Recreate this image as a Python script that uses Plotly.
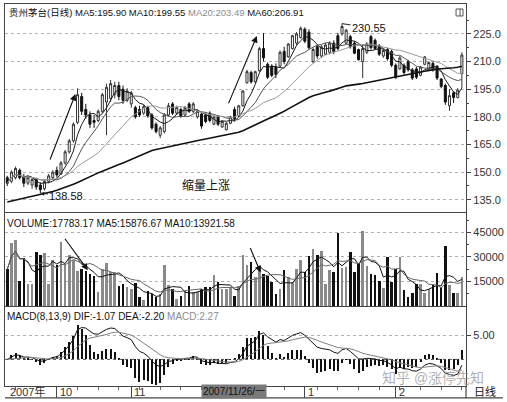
import plotly.graph_objects as go
import pandas as pd

# ---------------- data ----------------
opens = [147, 145, 147, 151, 147.5, 144, 143, 146, 143, 141,
         145, 147, 151, 149, 155, 161, 167, 177, 191, 184,
         181, 178, 178, 183, 188, 190, 192, 197, 195, 189,
         187, 185, 184, 182, 185, 181, 176, 170, 172, 181,
         187, 182, 184, 181, 187, 183, 180, 181.5, 181, 182,
         176, 180, 174.5, 173, 176.5, 184, 180.6, 186, 198.5, 204,
         199, 205, 217, 208.5, 207.5, 207, 207.5, 215.5, 212.5, 217,
         220, 223, 227.5, 226, 210, 218, 213, 214, 215, 220,
         224, 225, 220, 223.5, 220, 216.5, 210, 215, 223.5, 221.5,
         218.5, 213, 216.5, 215.5, 208, 206, 208, 210, 205.5, 206,
         202.5, 208.5, 205.5, 209, 207.5, 200.5, 197, 186, 193, 190.5,
         203.5]
highs = [148, 151, 153, 152, 149, 148, 147, 147, 144.5, 146,
         149, 151, 153, 156, 162, 168, 177, 195.5, 193, 187,
         183, 181, 184, 193, 198, 200, 199, 199, 197, 195.5,
         194, 186, 186, 186.5, 186, 182, 177, 175, 182, 187.5,
         188, 186, 185, 186, 188, 188, 184, 182, 182.5, 183,
         180.5, 181, 178, 177, 180.5, 185.5, 186.5, 194.5, 205.5, 205,
         205, 218, 225.5, 209.5, 208.5, 209, 216, 218, 220, 224.5,
         226, 229, 228.5, 227.5, 217.5, 219, 219, 220, 221, 221.5,
         225.5, 230.55, 227.7, 224.5, 221, 217, 219, 220.5, 224.5, 222.5,
         219.5, 217, 217.5, 216.5, 209, 213, 209, 211, 206.5, 207,
         207.5, 213, 210, 210, 208, 201, 198, 195, 194, 195.5,
         215]
lows = [142.5, 144, 146, 146, 142, 143, 141, 140.5, 138.58, 140,
        144, 146, 147, 148.5, 154, 160, 166, 176, 181, 179,
        174, 174, 177, 182, 170, 188, 190, 189, 187, 188,
        185, 179, 180, 181, 179.5, 173, 171, 168.5, 171, 180,
        181, 181, 179.5, 180, 182, 182, 179, 173.5, 176.5, 177,
        175.5, 175, 174, 172.6, 176, 177.5, 180, 185.5, 198, 198,
        198.5, 204.5, 210, 200.5, 201.5, 201, 207, 208.5, 212, 216.5,
        219, 222.5, 220, 216.5, 209, 211.5, 212, 213.5, 214, 214,
        216, 224, 219.5, 217, 214, 210.5, 201, 214, 216.5, 216.5,
        213, 212, 210.5, 207, 200.5, 205.5, 203, 204.5, 200, 200.5,
        202, 208, 205, 204.5, 200, 195.5, 186.5, 183.3, 187.5, 190,
        195.5]
closes = [144, 150, 152, 147, 144, 147, 146, 142, 140.5, 145,
          148, 150, 148.5, 155, 161, 167, 176, 192, 183, 181,
          176, 177, 183, 192, 196, 198, 197, 191, 189, 194,
          193, 180, 181, 185.5, 180.5, 174, 172, 174, 181, 186,
          182, 185, 180.5, 185, 183, 187, 183, 175, 177.5, 178,
          180, 176, 177.5, 176.5, 180, 179, 186, 194, 204.5, 199,
          204.5, 217, 212, 201.5, 202.5, 203, 215, 210, 219.5, 224,
          225, 228, 221, 217.5, 216.5, 213, 218, 219, 220, 215.5,
          217, 229, 227, 218, 214.5, 211, 217, 219.5, 217.5, 217,
          214, 216, 211.5, 208, 201.5, 212, 204, 205.5, 201, 201.5,
          207, 212.5, 209.5, 205.5, 201, 196.5, 188, 191.5, 190.5, 194.5,
          213.5]
volumes = [22500, 38000, 40000, 15000, 29000, 13000, 13000, 33000, 31000, 32000,
           13000, 27700, 24600, 39000, 25600, 30800, 27700, 21400, 22500, 21400,
           19400, 18300, 8300, 22500, 26300, 20400, 20400, 12000, 13500, 11700,
           10400, 13700, 5400, 3300, 9000, 6900, 5400, 6900, 24600, 12500,
           10400, 4200, 6200, 9000, 12000, 8300, 8300, 10000, 11700, 11700,
           18700, 14200, 10000, 10000, 11700, 5800, 12000, 30800, 24600, 26700,
           17300, 22900, 19400, 18300, 14600, 6900, 10000, 21900, 17300, 14600,
           22500, 27700, 20800, 30400, 34400, 30800, 33300, 13100, 21900, 20800,
           44400, 22900, 23500, 32900, 20800, 26000, 45800, 24200, 19400, 18800,
           15200, 11000, 29800, 14600, 22500, 29800, 9400, 5400, 7900, 13100,
           13100, 7900, 10000, 12500, 20000, 11500, 36500, 12500, 7500, 7500,
           17783]
# MA60 for the days whose 60-day window starts before the shown data
ma60_head = [133.8, 134.3, 134.8, 135.3, 135.7, 136.1, 136.6, 137.1, 137.6, 138.2,
             138.8, 139.5, 140.2, 140.9, 141.7, 142.4, 143.4, 144.4, 145.5, 146.5,
             147.5, 148.5, 149.6, 150.5, 151.5, 152.4, 153.3, 154.1, 155.0, 156.0,
             157.0, 158.0, 159.0, 160.0, 160.9, 161.7, 162.3, 162.8, 163.3, 163.8,
             164.4, 165.0, 165.5, 166.0, 166.4, 166.8, 167.2, 167.6, 168.0, 168.4,
             168.8, 169.2, 169.6, 170.0, 170.5, 171.0, 171.6, 172.4, 173.5]

month_ticks = [0, 12, 30, 72, 94]
month_labels = ["2007年", "10", "11", "1", "2"]
week_starts = [2, 7, 17, 22, 27, 32, 37, 42, 47, 52, 57, 62, 67, 75, 80, 85, 90, 95, 100, 105, 110]
cursor_index = 47
cursor_label = "2007/11/26/一"
price_ticks = [135, 150, 165, 180, 195, 210, 225]
price_minor = [142.5, 157.5, 172.5, 187.5, 202.5, 217.5, 232.5]
vol_ticks = [15000, 30000, 45000]
vol_minor = [7500, 22500, 37500, 52500]
macd_ticks = [5]

peak_index, peak_value = 81, 230.55
low_index, low_value = 8, 138.58

title_main = ("贵州茅台(日线) MA5:195.90 MA10:199.55 "
              "<span style='color:#8c8c8c'>MA20:203.49</span> MA60:206.91")
title_vol = "VOLUME:17783.17 MA5:15876.67 MA10:13921.58"
title_macd = ("MACD(8,13,9) DIF:-1.07 DEA:-2.20 "
              "<span style='color:#8c8c8c'>MACD:2.27</span>")

# ---------------- indicators ----------------
x = list(range(len(closes)))
c = pd.Series(closes, dtype=float)
ma5 = c.rolling(5, min_periods=1).mean()
ma10 = c.rolling(10, min_periods=1).mean()
ma20 = c.rolling(20, min_periods=1).mean()
ma60 = c.rolling(60).mean()
ma60.iloc[:len(ma60_head)] = ma60_head

v = pd.Series(volumes, dtype=float)
vma5 = v.rolling(5, min_periods=1).mean()
vma10 = v.rolling(10, min_periods=1).mean()

ema8 = c.ewm(span=8, adjust=False).mean()
ema13 = c.ewm(span=13, adjust=False).mean()
dif = ema8 - ema13
dea = dif.ewm(span=9, adjust=False).mean()
hist = 2 * (dif - dea)

vol_colors = ["#8a8a8a" if cl >= op else "#111111" for op, cl in zip(opens, closes)]

FONT = "Liberation Sans, Arial, Noto Sans CJK SC, sans-serif"
LINE = "#444444"

fig = go.Figure()
fig.add_trace(go.Candlestick(
    x=x, open=opens, high=highs, low=lows, close=closes,
    increasing=dict(line=dict(color="#333333", width=1), fillcolor="#ffffff"),
    decreasing=dict(line=dict(color="#111111", width=1), fillcolor="#111111"),
    whiskerwidth=0, xaxis="x", yaxis="y", hoverinfo="skip"))
for series, col, w in [(ma5, "#1a1a1a", 1), (ma10, "#555555", 1),
                       (ma20, "#9a9a9a", 1), (ma60, "#111111", 1.6)]:
    fig.add_trace(go.Scatter(x=x, y=series, mode="lines", line=dict(color=col, width=w),
                             xaxis="x", yaxis="y", hoverinfo="skip"))

fig.add_trace(go.Bar(x=x, y=volumes, marker=dict(color=vol_colors, line=dict(width=0)),
                     width=0.62, xaxis="x2", yaxis="y2", hoverinfo="skip"))
fig.add_trace(go.Scatter(x=x, y=vma5, mode="lines", line=dict(color="#111111", width=1),
                         xaxis="x2", yaxis="y2", hoverinfo="skip"))
fig.add_trace(go.Scatter(x=x, y=vma10, mode="lines", line=dict(color="#666666", width=1),
                         xaxis="x2", yaxis="y2", hoverinfo="skip"))

fig.add_trace(go.Bar(x=x, y=hist, marker=dict(color="#111111", line=dict(width=0)),
                     width=0.26, xaxis="x3", yaxis="y3", hoverinfo="skip"))
fig.add_trace(go.Scatter(x=x, y=dif, mode="lines", line=dict(color="#111111", width=1),
                         xaxis="x3", yaxis="y3", hoverinfo="skip"))
fig.add_trace(go.Scatter(x=x, y=dea, mode="lines", line=dict(color="#808080", width=1),
                         xaxis="x3", yaxis="y3", hoverinfo="skip"))

xr = [-0.554, 111.0]
common_x = dict(range=xr, showgrid=False, zeroline=False, showline=True, mirror=True,
                linecolor=LINE, linewidth=1.2, fixedrange=True)
common_y = dict(side="right", showline=True, mirror=True, linecolor=LINE, linewidth=1.2,
                zeroline=False, ticks="outside", ticklen=4, tickcolor=LINE,
                tickfont=dict(size=11, color="#333333", family=FONT),
                gridcolor="#b0b0b0", griddash="dot", gridwidth=1, fixedrange=True)

H = 383.0  # plot area height in px (402 - 3 - 16)
def py(px):
    return (386 - px) / H

fig.update_layout(
    width=507, height=402, margin=dict(l=5, r=39, t=3, b=16),
    paper_bgcolor="white", plot_bgcolor="white", showlegend=False,
    font=dict(family=FONT, size=11, color="#111111"),
    xaxis=dict(domain=[0, 1], anchor="y", rangeslider=dict(visible=False),
               showticklabels=False, ticks="", **common_x),
    xaxis2=dict(domain=[0, 1], anchor="y2", showticklabels=False, ticks="", **common_x),
    xaxis3=dict(domain=[0, 1], anchor="y3", showticklabels=False, ticks="outside",
                ticklen=11, tickcolor=LINE, tickmode="array", tickvals=month_ticks[1:],
                minor=dict(tickvals=week_starts, ticklen=3, ticks="outside", tickcolor="#666666"),
                **common_x),
    yaxis=dict(domain=[py(212), 1], anchor="x", range=[128.13, 241.2],
               tickmode="array", tickvals=price_ticks,
               ticktext=[f"{t:.1f}" for t in price_ticks],
               minor=dict(tickvals=price_minor, ticklen=2, ticks="outside", tickcolor=LINE),
               showgrid=True, **common_y),
    yaxis2=dict(domain=[py(306), py(213)], anchor="x2", range=[0, 56500],
                tickmode="array", tickvals=vol_ticks, ticktext=[str(t) for t in vol_ticks],
                minor=dict(tickvals=vol_minor, ticklen=2, ticks="outside", tickcolor=LINE),
                showgrid=True, **common_y),
    yaxis3=dict(domain=[0, py(307)], anchor="x3", range=[-5.49, 10.76],
                tickmode="array", tickvals=macd_ticks, ticktext=[f"{t:.2f}" for t in macd_ticks],
                showgrid=True, **common_y),
    bargap=0,
)

ann = []
# panel titles
ann.append(dict(xref="paper", yref="paper", x=0, y=py(12), xanchor="left", yanchor="middle",
                xshift=2, text=title_main, showarrow=False,
                font=dict(size=9.5, color="#111111", family=FONT)))
ann.append(dict(xref="paper", yref="paper", x=0, y=py(223), xanchor="left", yanchor="middle",
                xshift=0, text=title_vol, showarrow=False,
                font=dict(size=10, color="#111111", family=FONT)))
ann.append(dict(xref="paper", yref="paper", x=0, y=py(316), xanchor="left", yanchor="middle",
                xshift=0, text=title_macd, showarrow=False,
                font=dict(size=10, color="#111111", family=FONT)))
# peak / low labels
ann.append(dict(xref="x", yref="y", x=peak_index, y=peak_value, text=f"{peak_value:.2f}",
                showarrow=True, arrowhead=0, arrowwidth=1, arrowcolor="#222222",
                ax=27, ay=4, font=dict(size=11, color="#111111", family=FONT)))
ann.append(dict(xref="x", yref="y", x=low_index, y=low_value, text=f"{low_value:.2f}",
                showarrow=True, arrowhead=2, arrowsize=0.8, arrowwidth=1, arrowcolor="#222222",
                ax=26, ay=3, font=dict(size=11, color="#111111", family=FONT)))
ann.append(dict(xref="x", yref="y", x=48.1, y=142.7, text="缩量上涨", showarrow=False,
                font=dict(size=12, color="#111111", family=FONT)))
# hand-drawn arrows
for xa, ya, hx, hy, dx, dy in [("x", "y", 16.5, 192.4, -26, 67),
                               ("x", "y", 60.4, 223.9, -29, 69),
                               ("x2", "y2", 19.5, 21900, -24, -33),
                               ("x2", "y2", 61.3, 20500, -11, -26)]:
    ann.append(dict(xref=xa, yref=ya, x=hx, y=hy, text="", showarrow=True,
                    arrowhead=2, arrowsize=1.2, arrowwidth=1.1, arrowcolor="#111111",
                    ax=dx, ay=dy))
# date strip labels
for t, lab in zip(month_ticks, month_labels):
    ann.append(dict(xref="x3", yref="paper", x=t, y=py(392), xanchor="left", yanchor="middle",
                    xshift=1, text=lab, showarrow=False,
                    font=dict(size=11, color="#333333", family=FONT)))
ann.append(dict(xref="x3", yref="paper", x=cursor_index, y=py(392), xanchor="left",
                yanchor="middle", xshift=-1, text=cursor_label, showarrow=False,
                bgcolor="#7a7a7a", borderpad=1,
                font=dict(size=10, color="#111111", family=FONT)))
ann.append(dict(xref="paper", yref="paper", x=(487 - 5) / 463, y=py(392), xanchor="center",
                yanchor="middle", text="日线", showarrow=False,
                font=dict(size=11, color="#111111", family=FONT)))
# watermark
ann.append(dict(xref="paper", yref="paper", x=(435 - 5) / 463, y=py(378), xanchor="center",
                yanchor="middle", text="知乎 @涨停先知", showarrow=False,
                font=dict(size=14, color="rgba(150,150,150,0.75)", family=FONT)))
fig.update_layout(annotations=ann)

shapes = [
    dict(type="line", xref="paper", yref="paper", x0=0, x1=(505 - 5) / 463,
         y0=py(398), y1=py(398), line=dict(color=LINE, width=1.2)),
    dict(type="line", xref="paper", yref="paper", x0=1, x1=1, y0=py(398), y1=0,
         line=dict(color=LINE, width=1.2)),
    dict(type="line", xref="paper", yref="y3", x0=0, x1=1, y0=0, y1=0,
         line=dict(color="#555555", width=1, dash="dot")),
    dict(type="rect", xref="paper", yref="paper", x0=(458 - 5) / 463, x1=(465 - 5) / 463,
         y0=py(15), y1=py(8), line=dict(color="#555555", width=1)),
    dict(type="line", xref="paper", yref="paper", x0=(462 - 5) / 463, x1=(462 - 5) / 463,
         y0=py(15), y1=py(8), line=dict(color="#555555", width=1)),
]
fig.update_layout(shapes=shapes)

fig.write_html("out.html", config={"displayModeBar": False},
               post_script="document.body.style.margin='0px';document.body.style.overflow='hidden';")
